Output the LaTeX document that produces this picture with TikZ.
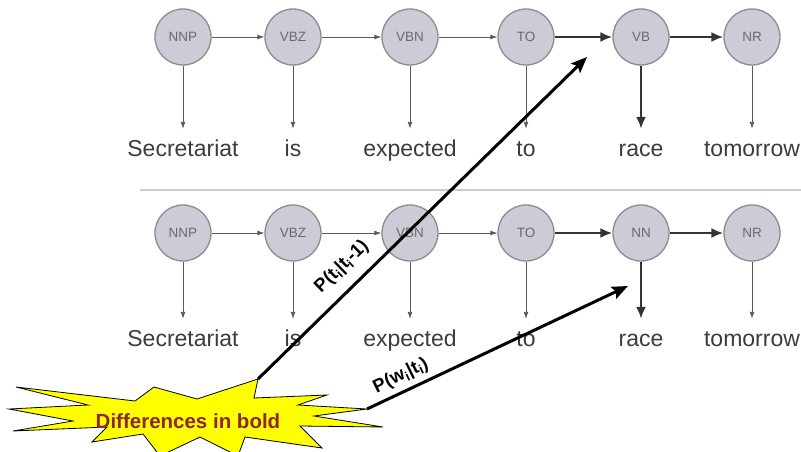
\documentclass[tikz,border=0pt]{standalone}
\usepackage{fontspec}
\setmainfont{Liberation Sans}
\usetikzlibrary{arrows.meta}
\definecolor{circfill}{RGB}{204,204,214}
\definecolor{circline}{RGB}{140,140,145}
\definecolor{thinarr}{RGB}{90,90,90}
\definecolor{boldarr}{RGB}{50,50,55}
\definecolor{wordcol}{RGB}{60,60,60}
\definecolor{tagcol}{RGB}{105,105,110}
\definecolor{burst}{RGB}{255,255,0}
\definecolor{burstText}{RGB}{140,40,40}
\begin{document}
\begin{tikzpicture}[x=1pt,y=-1pt,
  tag/.style={circle,draw=circline,line width=1.3pt,fill=circfill,minimum size=56pt,inner sep=0,
    font=\fontsize{13.5}{13.5}\selectfont,text=tagcol},
  word/.style={anchor=base,inner sep=0,text height=16pt,text depth=5pt,
    font=\fontsize{23}{23}\selectfont,text=wordcol},
  thin/.style={draw=thinarr,line width=0.9pt,-{Latex[length=7pt,width=5pt]}},
  thick/.style={draw=boldarr,line width=2.4pt,-{Latex[length=12pt,width=10pt]}},
  drop/.style={shorten >=11pt},
  big/.style={draw=black,line width=3pt,-{Stealth[length=16pt,width=13pt,inset=3pt]}},
  plabel/.style={font=\bfseries\fontsize{18.5}{18.5}\selectfont,inner sep=0}]
\useasboundingbox (0,0) rectangle (801,452);
\fill[white] (0,0) rectangle (801,452);

% separator
\draw[gray!40,line width=1.6pt] (140,190) -- (801,190);

% top row
\foreach \n/\x/\t in {a1/183/NNP,a2/293/VBZ,a3/410/VBN,a4/526/TO,a5/641/VB,a6/752/NR}
  \node[tag] (\n) at (\x,37) {\t};
\foreach \n/\x/\t in {w1/183/Secretariat,w2/293/is,w3/410/expected,w4/526/to,w5/641/race,w6/752/tomorrow}
  \node[word] (\n) at (\x,156) {\t};
\draw[thin] (a1) -- (a2);
\draw[thin] (a2) -- (a3);
\draw[thin] (a3) -- (a4);
\draw[thick] (a4) -- (a5);
\draw[thick] (a5) -- (a6);
\draw[thin,drop] (a1.south) -- (w1.north);
\draw[thin,drop] (a2.south) -- (w2.north);
\draw[thin,drop] (a3.south) -- (w3.north);
\draw[thin,drop] (a4.south) -- (w4.north);
\draw[thick,drop] (a5.south) -- (w5.north);
\draw[thin,drop] (a6.south) -- (w6.north);

% bottom row
\foreach \n/\x/\t in {b1/183/NNP,b2/293/VBZ,b3/410/VBN,b4/526/TO,b5/641/NN,b6/752/NR}
  \node[tag] (\n) at (\x,233) {\t};
\foreach \n/\x/\t in {v1/183/Secretariat,v2/293/is,v3/410/expected,v4/526/to,v5/641/race,v6/752/tomorrow}
  \node[word] (\n) at (\x,346) {\t};
\draw[thin] (b1) -- (b2);
\draw[thin] (b2) -- (b3);
\draw[thin] (b3) -- (b4);
\draw[thick] (b4) -- (b5);
\draw[thick] (b5) -- (b6);
\draw[thin,drop] (b1.south) -- (v1.north);
\draw[thin,drop] (b2.south) -- (v2.north);
\draw[thin,drop] (b3.south) -- (v3.north);
\draw[thin,drop] (b4.south) -- (v4.north);
\draw[thick,drop] (b5.south) -- (v5.north);
\draw[thin,drop] (b6.south) -- (v6.north);

% starburst
\coordinate (s1) at (258,379);
\coordinate (s2) at (367,409);
\draw[fill=burst,draw=black,line width=0.8pt,line join=miter]
  (s1) -- (254,398) -- (327,395) -- (298,405) -- (s2) -- (314,416) -- (383,427)
  -- (300,426) -- (322,448) -- (245,437) -- (238,456) -- (200,437) -- (160,456)
  -- (143,434) -- (92,442) -- (107,427) -- (13,431) -- (73,421) -- (9,409)
  -- (88,405) -- (16,387) -- (135,401) -- (154,387) -- (197,399) -- cycle;
\node[font=\bfseries\fontsize{20.5}{20.5}\selectfont,text=burstText,inner sep=0,anchor=base] (diff) at (188,428) {Differences in bold};

% probability arrows
\coordinate (e1) at (587,57);
\coordinate (e2) at (628,286);
\draw[big] (s1) -- (e1);
\draw[big] (s2) -- (e2);
\node[plabel,rotate=44] (pt) at (342,267) {P(t\textsubscript{i}|t\textsubscript{i}-1)};
\node[plabel,rotate=26] (pw) at (401,376) {P(w\textsubscript{i}|t\textsubscript{i})};
\end{tikzpicture}
\end{document}
